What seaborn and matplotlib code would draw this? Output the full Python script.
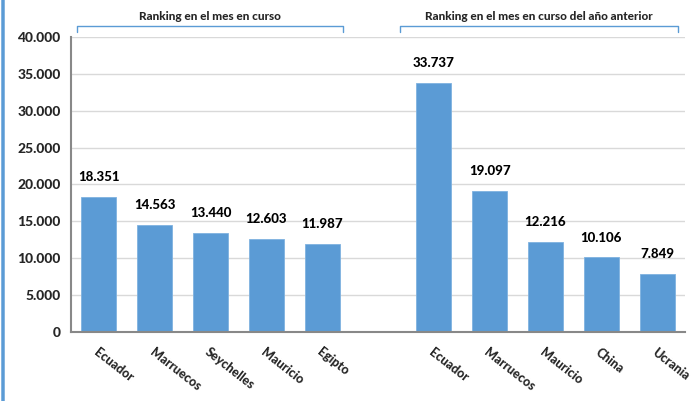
import matplotlib
matplotlib.use("Agg")
import matplotlib.pyplot as plt
from matplotlib.patches import FancyBboxPatch
from matplotlib.ticker import FuncFormatter, MultipleLocator
import seaborn as sns
import pandas as pd

# datos
paises_actual = ["Ecuador", "Marruecos", "Seychelles", "Mauricio", "Egipto"]
valores_actual = [18351, 14563, 13440, 12603, 11987]
paises_anterior = ["Ecuador", "Marruecos", "Mauricio", "China", "Ucrania"]
valores_anterior = [33737, 19097, 12216, 10106, 7849]
titulo_actual = "Ranking en el mes en curso"
titulo_anterior = "Ranking en el mes en curso del año anterior"

sns.set_theme(style="white")
plt.rcParams['font.family'] = ['Lato', 'DejaVu Sans']
PESO = 900

# posiciones: 5 barras, hueco, 5 barras
pos = list(range(5)) + list(range(6, 11))
df = pd.DataFrame({"pos": pos,
                   "valor": valores_actual + valores_anterior})
etiquetas = paises_actual + [""] + paises_anterior

fig = plt.figure(figsize=(6.91, 4.01), dpi=100)
ax = fig.add_axes([71/691, 69/401, 614/691, 295/401])

sns.barplot(data=df, x="pos", y="valor", native_scale=True, width=0.63,
            color="#5B9BD5", saturation=1, edgecolor="#7FB2E0", linewidth=0.6, ax=ax)

for p, v in zip(df["pos"], df["valor"]):
    ax.annotate(f"{v:,}".replace(",", "."), xy=(p, v), xytext=(0, 10),
                textcoords="offset points", ha="center", va="bottom",
                fontsize=9.5, fontweight=PESO, color="black")

ax.set_xlim(-0.5, 10.5)
ax.set_ylim(0, 40000)
ax.yaxis.set_major_locator(MultipleLocator(5000))
ax.yaxis.set_major_formatter(FuncFormatter(lambda v, _: f"{int(v):,}".replace(",", ".")))
ax.grid(axis="y", color="#d9d9d9", linewidth=1)
ax.set_axisbelow(True)

ax.set_xticks(range(11))
ax.set_xticklabels(etiquetas, rotation=-38, ha="left", va="top",
                   rotation_mode="anchor", fontsize=9, fontweight=PESO)
ax.set_xticks([i - 0.5 for i in range(12)], minor=True)
ax.tick_params(axis="x", which="major", length=0, pad=10)
ax.tick_params(axis="x", which="minor", length=4, color="#888888", width=1.2, direction="out")
ax.tick_params(axis="y", length=4, color="#888888", width=1.2, direction="out", labelsize=10)
for t in ax.get_yticklabels():
    t.set_fontweight(PESO)
ax.set_xlabel("")
ax.set_ylabel("")

sns.despine(ax=ax)
ax.spines["left"].set_color("#888888")
ax.spines["bottom"].set_color("#888888")
ax.spines["left"].set_linewidth(1.5)
ax.spines["bottom"].set_linewidth(1.5)

# llaves de grupo
def llave(x0, x1, texto):
    y = 26
    ys = 32
    fig.add_artist(plt.Line2D([x0/691, x0/691, x1/691, x1/691],
                              [1 - ys/401, 1 - y/401, 1 - y/401, 1 - ys/401],
                              color="#5B9BD5", linewidth=1))
    fig.text((x0 + x1) / 2 / 691, 1 - 16/401, texto, ha="center", va="center",
             fontsize=8.5, fontweight=PESO)

llave(77, 343, titulo_actual)
llave(400, 678, titulo_anterior)

# marco del gráfico
marco = FancyBboxPatch((3/691, -60/401), 760/691, 500/401,
                       boxstyle="round,pad=0,rounding_size=0.03",
                       transform=fig.transFigure, fill=False,
                       edgecolor="#5B9BD5", linewidth=2.5, clip_on=False)
fig.add_artist(marco)

fig.savefig("out.png", dpi=100)
